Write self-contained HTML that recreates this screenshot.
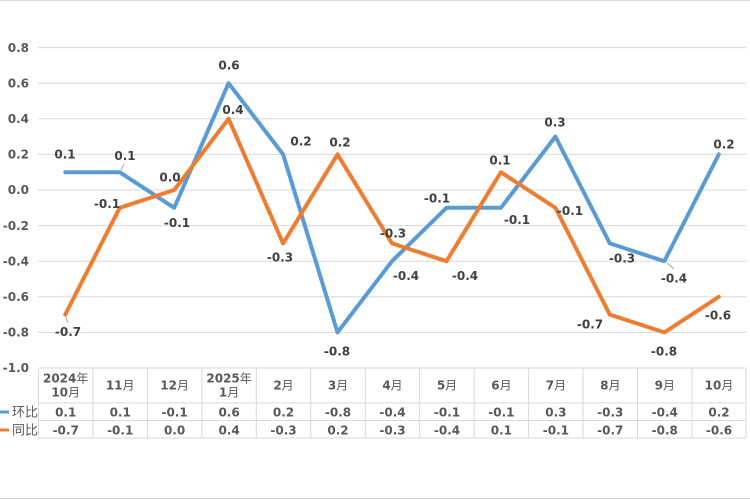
<!DOCTYPE html>
<html>
<head>
<meta charset="utf-8">
<style>
  html,body{margin:0;padding:0;background:#fff;}
  svg{display:block;}
  .ax{font-family:"DejaVu Sans","Liberation Sans","Noto Sans CJK SC",sans-serif;font-weight:bold;font-size:12px;fill:#595959;}
  .dl{font-family:"DejaVu Sans","Liberation Sans",sans-serif;font-weight:bold;font-size:12px;fill:#404040;}
  .tb{font-family:"DejaVu Sans","Liberation Sans","Noto Sans CJK SC",sans-serif;font-weight:bold;font-size:12px;fill:#595959;}
  .lg{font-family:"Liberation Sans","Noto Sans CJK SC",sans-serif;font-size:13px;fill:#595959;}
</style>
</head>
<body>
<svg width="750" height="500" viewBox="0 0 750 500" xmlns="http://www.w3.org/2000/svg">
  <rect x="0" y="0" width="750" height="500" fill="#fff"/>
  <!-- outer top/bottom borders -->
  <line x1="0" y1="0.5" x2="750" y2="0.5" stroke="#d9d9d9" stroke-width="1"/>
  <line x1="0" y1="498.5" x2="750" y2="498.5" stroke="#d9d9d9" stroke-width="1"/>

  <!-- gridlines -->
  <g stroke="#d9d9d9" stroke-width="1">
    <line x1="38" y1="47.6" x2="746" y2="47.6"/>
    <line x1="38" y1="83.2" x2="746" y2="83.2"/>
    <line x1="38" y1="118.8" x2="746" y2="118.8"/>
    <line x1="38" y1="154.4" x2="746" y2="154.4"/>
    <line x1="38" y1="190" x2="746" y2="190"/>
    <line x1="38" y1="225.6" x2="746" y2="225.6"/>
    <line x1="38" y1="261.2" x2="746" y2="261.2"/>
    <line x1="38" y1="296.8" x2="746" y2="296.8"/>
    <line x1="38" y1="332.4" x2="746" y2="332.4"/>
  </g>

  <!-- y axis labels -->
  <g class="ax" text-anchor="end">
    <text x="29" y="52">0.8</text>
    <text x="29" y="87.5">0.6</text>
    <text x="29" y="123">0.4</text>
    <text x="29" y="158.5">0.2</text>
    <text x="29" y="194">0.0</text>
    <text x="29" y="230">-0.2</text>
    <text x="29" y="265.5">-0.4</text>
    <text x="29" y="301">-0.6</text>
    <text x="29" y="336.5">-0.8</text>
    <text x="29" y="372">-1.0</text>
  </g>

  <!-- series lines -->
  <polyline fill="none" stroke="#5b9bd5" stroke-width="4" stroke-linejoin="round" stroke-linecap="round"
    points="65.2,172.2 119.7,172.2 174.2,207.8 228.6,83.2 283.1,154.4 337.5,332.4 392,261.2 446.5,207.8 500.9,207.8 555.4,136.6 609.8,243.4 664.3,261.2 718.8,154.4"/>
  <polyline fill="none" stroke="#ed7d31" stroke-width="4" stroke-linejoin="round" stroke-linecap="round"
    points="65.2,314.6 119.7,207.8 174.2,190 228.6,118.8 283.1,243.4 337.5,154.4 392,243.4 446.5,261.2 500.9,172.2 555.4,207.8 609.8,314.6 664.3,332.4 718.8,296.8"/>

  <!-- leader lines -->
  <g stroke="#a6a6a6" stroke-width="1">
    <line x1="121" y1="170" x2="124" y2="164"/>
    <line x1="66" y1="317" x2="68" y2="323"/>
    <line x1="667" y1="263" x2="674" y2="269"/>
  </g>

  <!-- data labels: blue -->
  <g class="dl" text-anchor="middle">
    <text x="65" y="158.5">0.1</text>
    <text x="125" y="160">0.1</text>
    <text x="177" y="227">-0.1</text>
    <text x="229" y="69.5">0.6</text>
    <text x="301" y="145.5">0.2</text>
    <text x="337" y="355.5">-0.8</text>
    <text x="406" y="280">-0.4</text>
    <text x="437" y="202.5">-0.1</text>
    <text x="517" y="224">-0.1</text>
    <text x="555" y="126.5">0.3</text>
    <text x="622" y="262.5">-0.3</text>
    <text x="674" y="282.5">-0.4</text>
    <text x="724" y="148.5">0.2</text>
  </g>
  <!-- data labels: orange -->
  <g class="dl" text-anchor="middle">
    <text x="68" y="336">-0.7</text>
    <text x="107" y="208">-0.1</text>
    <text x="170" y="181.5">0.0</text>
    <text x="233" y="114">0.4</text>
    <text x="280" y="261.5">-0.3</text>
    <text x="340" y="146.5">0.2</text>
    <text x="393" y="237.5">-0.3</text>
    <text x="465" y="280">-0.4</text>
    <text x="500" y="164.5">0.1</text>
    <text x="570" y="215">-0.1</text>
    <text x="590" y="328.5">-0.7</text>
    <text x="664" y="355.5">-0.8</text>
    <text x="718" y="319.5">-0.6</text>
  </g>

  <!-- data table -->
  <g stroke="#d9d9d9" stroke-width="1">
    <line x1="38.5" y1="368" x2="746" y2="368"/>
    <line x1="38.5" y1="403" x2="746" y2="403"/>
    <line x1="38.5" y1="420.5" x2="746" y2="420.5"/>
    <line x1="38.5" y1="438" x2="746" y2="438"/>
    <line x1="38.5" y1="368" x2="38.5" y2="438"/>
    <line x1="93" y1="368" x2="93" y2="438"/>
    <line x1="147.4" y1="368" x2="147.4" y2="438"/>
    <line x1="201.9" y1="368" x2="201.9" y2="438"/>
    <line x1="256.3" y1="368" x2="256.3" y2="438"/>
    <line x1="310.8" y1="368" x2="310.8" y2="438"/>
    <line x1="365.3" y1="368" x2="365.3" y2="438"/>
    <line x1="419.7" y1="368" x2="419.7" y2="438"/>
    <line x1="474.2" y1="368" x2="474.2" y2="438"/>
    <line x1="528.6" y1="368" x2="528.6" y2="438"/>
    <line x1="583.1" y1="368" x2="583.1" y2="438"/>
    <line x1="637.5" y1="368" x2="637.5" y2="438"/>
    <line x1="692" y1="368" x2="692" y2="438"/>
    <line x1="746" y1="368" x2="746" y2="438"/>
  </g>

  <!-- header row -->
  <g class="tb" text-anchor="middle">
    <text x="65.7" y="382.5">2024<tspan font-weight="normal">年</tspan></text>
    <text x="65.7" y="396.5">10<tspan font-weight="normal">月</tspan></text>
    <text x="120.2" y="389.5">11<tspan font-weight="normal">月</tspan></text>
    <text x="174.6" y="389.5">12<tspan font-weight="normal">月</tspan></text>
    <text x="229.1" y="382.5">2025<tspan font-weight="normal">年</tspan></text>
    <text x="229.1" y="396.5">1<tspan font-weight="normal">月</tspan></text>
    <text x="283.5" y="389.5">2<tspan font-weight="normal">月</tspan></text>
    <text x="338" y="389.5">3<tspan font-weight="normal">月</tspan></text>
    <text x="392.5" y="389.5">4<tspan font-weight="normal">月</tspan></text>
    <text x="447" y="389.5">5<tspan font-weight="normal">月</tspan></text>
    <text x="501.4" y="389.5">6<tspan font-weight="normal">月</tspan></text>
    <text x="555.9" y="389.5">7<tspan font-weight="normal">月</tspan></text>
    <text x="610.3" y="389.5">8<tspan font-weight="normal">月</tspan></text>
    <text x="664.8" y="389.5">9<tspan font-weight="normal">月</tspan></text>
    <text x="719" y="389.5">10<tspan font-weight="normal">月</tspan></text>
  </g>

  <!-- legend keys -->
  <line x1="0" y1="412" x2="9" y2="412" stroke="#5b9bd5" stroke-width="3"/>
  <text class="lg" x="12" y="416.5">环比</text>
  <line x1="0" y1="430" x2="9" y2="430" stroke="#ed7d31" stroke-width="3"/>
  <text class="lg" x="12" y="434.5">同比</text>

  <!-- row 环比 -->
  <g class="tb" text-anchor="middle">
    <text x="65.7" y="416.5">0.1</text>
    <text x="120.2" y="416.5">0.1</text>
    <text x="174.6" y="416.5">-0.1</text>
    <text x="229.1" y="416.5">0.6</text>
    <text x="283.5" y="416.5">0.2</text>
    <text x="338" y="416.5">-0.8</text>
    <text x="392.5" y="416.5">-0.4</text>
    <text x="447" y="416.5">-0.1</text>
    <text x="501.4" y="416.5">-0.1</text>
    <text x="555.9" y="416.5">0.3</text>
    <text x="610.3" y="416.5">-0.3</text>
    <text x="664.8" y="416.5">-0.4</text>
    <text x="719" y="416.5">0.2</text>
  </g>
  <!-- row 同比 -->
  <g class="tb" text-anchor="middle">
    <text x="65.7" y="434.5">-0.7</text>
    <text x="120.2" y="434.5">-0.1</text>
    <text x="174.6" y="434.5">0.0</text>
    <text x="229.1" y="434.5">0.4</text>
    <text x="283.5" y="434.5">-0.3</text>
    <text x="338" y="434.5">0.2</text>
    <text x="392.5" y="434.5">-0.3</text>
    <text x="447" y="434.5">-0.4</text>
    <text x="501.4" y="434.5">0.1</text>
    <text x="555.9" y="434.5">-0.1</text>
    <text x="610.3" y="434.5">-0.7</text>
    <text x="664.8" y="434.5">-0.8</text>
    <text x="719" y="434.5">-0.6</text>
  </g>
</svg>
</body>
</html>
